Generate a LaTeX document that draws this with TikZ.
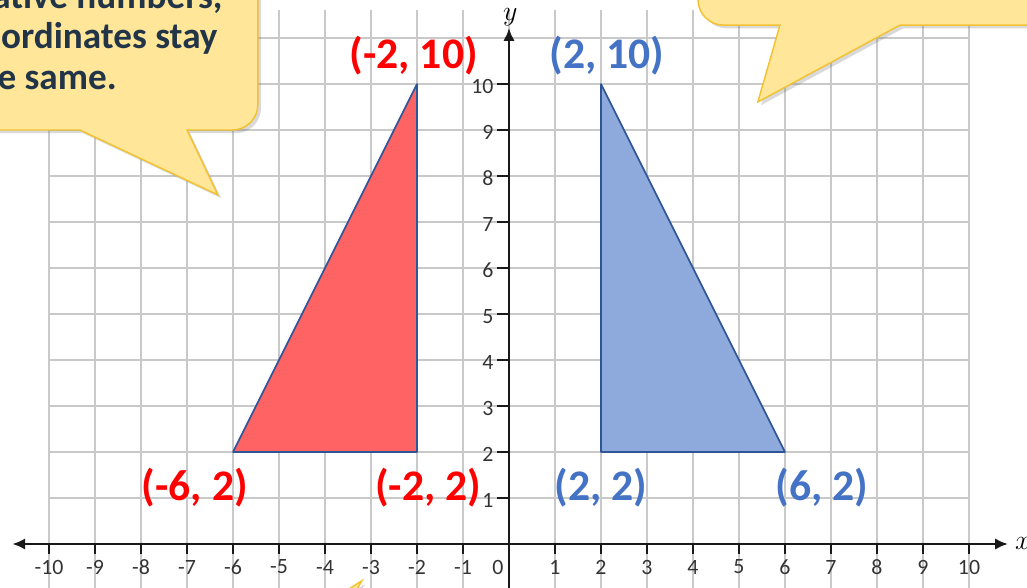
\documentclass[tikz,border=0pt]{standalone}
\usepackage{fontspec}
\setmainfont{Carlito}
\usetikzlibrary{arrows.meta,shadows}
\definecolor{gridgray}{HTML}{C9C9C9}
\definecolor{redfill}{HTML}{FF6363}
\definecolor{bluefill}{HTML}{8EA9DB}
\definecolor{edgeblue}{HTML}{2F5597}
\definecolor{labelblue}{HTML}{4472C4}
\definecolor{notefill}{HTML}{FFE699}
\definecolor{noteedge}{HTML}{F2C232}
\definecolor{notetext}{HTML}{223548}
\begin{document}
\begin{tikzpicture}[
  callout/.style={fill=notefill, draw=noteedge, line width=0.9pt,
    drop shadow={opacity=0.3, shadow xshift=0.07cm, shadow yshift=-0.07cm}},
  redpt/.style={text=red, font=\bfseries\fontsize{27}{30}\selectfont},
  bluept/.style={text=labelblue, font=\bfseries\fontsize{27}{30}\selectfont},
  ticklab/.style={text=black!80, font=\fontsize{13.5}{14}\selectfont, inner sep=0pt},
  notetxt/.style={text=notetext, font=\bfseries\fontsize{23}{26}\selectfont, inner sep=0pt}
]
  \useasboundingbox (-11.065,-0.935) rectangle (11.261,11.826);
  \clip (-11.065,-0.935) rectangle (11.261,11.826);
  % grid
  \foreach \i in {-10,...,10} \draw[gridgray, line width=1.2pt] (\i,-1) -- (\i,11.6);
  \foreach \j in {0,...,11} \draw[gridgray, line width=1.2pt] (-10,\j) -- (10,\j);
  % the two triangles
  \filldraw[fill=redfill, draw=edgeblue, line width=1pt, line join=round] (-6,2) -- (-2,2) -- (-2,10) -- cycle;
  \filldraw[fill=bluefill, draw=edgeblue, line width=1pt, line join=round] (2,2) -- (6,2) -- (2,10) -- cycle;
  % axes
  \coordinate (xl) at (-10.8,0); \coordinate (xr) at (10.85,0);
  \coordinate (yb) at (0,-1); \coordinate (yt) at (0,11.22);
  \draw[black!90, line width=1.8pt, {Latex[length=8pt,width=7pt]}-{Latex[length=8pt,width=7pt]}] (xl) -- (xr);
  \draw[black!90, line width=1.8pt, -{Latex[length=8pt,width=7pt]}] (yb) -- (yt);
  \node[font=\fontsize{17}{17}\selectfont] (xlab) at (11.17,0.02) {$x$};
  \node[font=\fontsize{17}{17}\selectfont] (ylab) at (0.03,11.45) {$y$};
  \foreach \i in {-10,...,-1,1,2,...,10} {
    \draw[black!90, line width=1.2pt] (\i,0) -- (\i,-0.22);
    \node[ticklab] (xt\i) at (\i,-0.5) {\i};
  }
  \node[ticklab] (xt0) at (-0.24,-0.5) {0};
  \foreach \j in {1,...,10} {
    \draw[black!90, line width=1.2pt] (-0.25,\j) -- (0,\j);
    \node[ticklab, anchor=east] (yt\j) at (-0.33,\j-0.05) {\j};
  }
  % vertex labels
  \node[redpt] (rtop) at (-2.07,10.62) {(-2, 10)};
  \node[bluept] (btop) at (2.13,10.62) {(2, 10)};
  \node[redpt] (rleft) at (-6.83,1.23) {(-6, 2)};
  \node[redpt] (rright) at (-1.76,1.23) {(-2, 2)};
  \node[bluept] (bleft) at (2.0,1.23) {(2, 2)};
  \node[bluept] (bright) at (6.8,1.23) {(6, 2)};
  % callouts
  \draw[callout] (-12,12.5) -- (-12,9) -- (-9.33,9) -- (-6.33,7.59) -- (-7,9)
    [rounded corners=0.55cm] -- (-5.46,9) -- (-5.46,12.5) [sharp corners] -- cycle;
  \node[notetxt, anchor=base east] (note1) at (-6.22,11.65) {ative numbers,};
  \node[notetxt, anchor=base east] (note2) at (-6.33,10.78) {-ordinates stay};
  \node[notetxt, anchor=base east] (note3) at (-8.52,9.87) {e same.};
  \draw[callout] (5.89,11.28) -- (5.41,9.61) -- (8.5,11.28) -- (12,11.28) -- (12,12.5) -- (4.11,12.5)
    [rounded corners=0.55cm] -- (4.11,11.28) [sharp corners] -- cycle;
  \draw[callout] (-3.2,-0.8) -- (-3.75,-1.15) -- (-3.4,-1.15) -- cycle;
\end{tikzpicture}
\end{document}
